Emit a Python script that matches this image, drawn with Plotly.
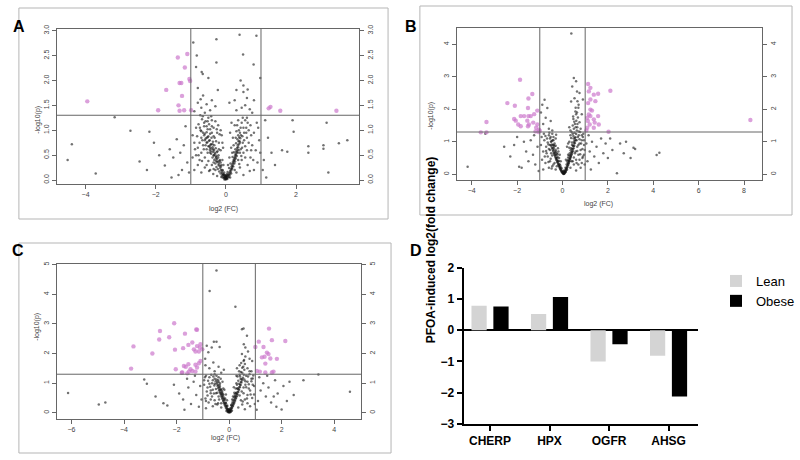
import math
import plotly.graph_objects as go

# ---------------- data ----------------
# panel A: proteins, (log2 FC, -log10 p)
a_grey = [
    (0.00,0.01),(-0.02,0.02),(0.02,0.03),(-0.04,0.05),(0.04,0.04),(-0.01,0.06),(0.01,0.08),(-0.06,0.07),(0.06,0.07),
    (-0.08,0.10),(0.08,0.11),(-0.03,0.10),(0.03,0.12),(-0.10,0.13),(0.10,0.14),(-0.12,0.16),(0.12,0.18),(-0.05,0.15),
    (0.05,0.16),(-0.14,0.20),(0.14,0.22),(-0.09,0.19),(0.09,0.24),(-0.16,0.24),(0.16,0.27),(-0.18,0.28),(0.18,0.31),
    (-0.13,0.30),(0.13,0.33),(-0.20,0.33),(0.20,0.36),(-0.22,0.37),(0.22,0.40),(-0.17,0.40),(0.24,0.44),(-0.25,0.42),
    (0.19,0.46),(-0.28,0.46),(0.26,0.49),(-0.21,0.50),(0.28,0.53),(-0.31,0.52),(0.23,0.56),(-0.26,0.56),(0.30,0.58),
    (-0.34,0.60),(0.27,0.62),(-0.29,0.64),(0.32,0.65),(-0.38,0.66),(0.34,0.70),(-0.33,0.70),(0.29,0.74),(-0.42,0.72),
    (0.36,0.78),(-0.37,0.77),(0.33,0.82),(-0.46,0.80),(0.38,0.86),(-0.41,0.85),(0.35,0.90),(-0.50,0.88),(0.40,0.95),
    (-0.45,0.93),(0.37,1.00),(-0.55,0.96),(0.42,1.05),
    (-0.07,0.12),(-0.11,0.09),(-0.15,0.13),(-0.19,0.17),(-0.23,0.22),(-0.27,0.26),(-0.21,0.30),(-0.30,0.33),(-0.25,0.36),
    (-0.33,0.40),(-0.29,0.43),(-0.38,0.45),(-0.34,0.49),(-0.42,0.53),(-0.37,0.57),(-0.46,0.61),(-0.41,0.63),(-0.50,0.68),
    (-0.44,0.71),(-0.53,0.76),(-0.48,0.79),(-0.58,0.83),(-0.52,0.86),(-0.62,0.90),(-0.27,0.48),(-0.32,0.55),(-0.36,0.62),
    (-0.24,0.58),(-0.18,0.38),(-0.14,0.27),(-0.10,0.20),(-0.06,0.04),(-0.09,0.05),(-0.13,0.06),(-0.04,0.01),
    (0.07,0.10),(0.11,0.10),(0.13,0.15),(0.15,0.19),(0.17,0.24),(0.19,0.28),(0.21,0.33),(0.23,0.38),(0.25,0.41),
    (0.27,0.46),(0.29,0.51),(0.31,0.56),(0.33,0.61),(0.35,0.66),(0.37,0.72),(0.39,0.78),(0.41,0.84),(0.43,0.90),
    (0.21,0.27),(0.24,0.33),(0.26,0.37),(0.28,0.43),(0.31,0.48),(0.34,0.55),(0.36,0.60),(0.15,0.13),(0.09,0.06),
    (0.04,0.02),(0.12,0.05),(0.18,0.22),(0.00,0.03),(-0.01,0.04),(0.01,0.05),(0.02,0.07),(-0.02,0.07),(0.00,0.09),
    (-0.05,0.10),(0.04,0.09),
    (-0.15,0.35),(-0.22,0.45),(-0.28,0.38),(-0.35,0.50),(-0.43,0.58),(-0.38,0.72),(-0.47,0.68),(-0.52,0.55),(-0.58,0.70),
    (-0.63,0.62),(-0.55,0.85),(-0.67,0.80),(-0.60,0.93),(-0.70,0.98),(-0.45,1.02),(-0.55,1.08),(-0.35,0.88),(-0.28,0.78),
    (-0.20,0.62),(-0.18,0.92),(-0.26,1.02),(-0.40,1.08),(-0.62,1.15),(-0.74,1.05),(-0.82,0.88),(-0.88,0.62),(-0.78,0.50),
    (-0.68,0.38),(-0.55,0.30),(-0.45,0.20),(-0.35,0.22),(-0.52,1.18),(-0.42,1.28),(-0.73,1.30),(-0.15,1.00),(-0.10,0.75),
    (0.18,0.55),(0.22,0.70),(0.28,0.85),(0.40,0.55),(0.46,0.65),(0.52,0.80),(0.44,0.48),(0.38,0.32),(0.55,0.45),
    (0.60,0.60),(0.65,0.75),(0.58,0.95),(0.50,1.05),(0.48,1.25),(0.62,1.15),(0.72,0.90),(0.78,0.40),(0.32,1.10),
    (0.12,0.95),(0.16,1.15),
    (-0.30,0.20),(-0.40,0.30),(-0.50,0.38),(-0.60,0.45),(-0.45,0.55),(-0.55,0.62),(-0.65,0.70),(-0.60,0.80),(-0.70,0.85),
    (-0.52,1.02),(-0.62,1.08),(-0.72,1.00),(-0.48,1.12),(-0.58,1.18),(-0.68,1.22),(-0.40,1.20),(-0.78,1.12),(-0.35,1.05),
    (-0.25,0.95),(-0.20,0.75),(-0.15,0.60),(-0.10,0.40),(-0.07,0.30),(-0.35,0.35),(-0.70,0.55),(-0.80,0.65),(-0.75,0.40),
    (-0.85,0.50),(-0.90,0.75),(-0.95,0.90),(-0.85,1.05),(-0.66,1.28),(-0.50,1.25),(-0.30,1.18),(-0.22,1.10),(-0.12,0.90),
    (-0.08,0.65),(-0.60,0.25),(-0.48,0.18),(-0.36,0.12),(-0.25,0.08),(-0.70,0.15),(-0.90,0.20),(-0.80,0.30),(-0.95,0.45),
    (-0.40,0.95),(-0.32,0.85),(-0.55,0.75),(-0.45,0.65),(-0.65,0.95),(-0.75,0.75),
    (0.30,0.15),(0.40,0.25),(0.45,0.40),(0.50,0.55),(0.55,0.68),(0.48,0.75),(0.60,0.85),(0.52,0.95),(0.65,1.00),
    (0.45,1.15),(0.55,1.20),(0.70,1.10),(0.80,0.95),(0.75,0.70),(0.85,0.60),(0.70,0.45),(0.62,0.30),(0.80,0.20),
    (0.90,0.35),(0.95,0.80),(0.88,1.15),(0.60,1.25),(0.35,1.20),(0.25,1.10),(0.20,0.85),(0.15,0.65),(0.10,0.45),
    (0.06,0.30),(0.42,0.62),(0.47,0.88),(0.58,1.05),(0.72,0.60),(0.35,0.40),(0.25,0.20),(0.50,0.10),(0.68,0.18),
    (0.92,1.05),(0.98,0.55),(0.40,0.75),(0.30,0.98),
    (-0.60,1.35),(-0.45,1.40),(-0.70,1.45),(-0.55,1.52),(-0.80,1.55),(-0.40,1.60),(-0.65,1.70),(-0.23,1.81),(-0.80,1.85),
    (-0.30,1.48),(-0.90,1.38),(-0.72,1.62),(0.30,1.40),(0.45,1.45),(0.55,1.50),(0.25,1.60),(0.60,1.65),(0.50,1.77),
    (0.30,1.81),(0.50,1.90),(0.75,1.35),(0.10,1.55),(0.80,1.60),(0.68,1.42),
    (-0.93,2.76),(-0.27,2.83),(0.39,2.92),(0.87,2.90),(-0.83,2.50),(0.49,2.52),(-0.27,2.36),(0.79,2.32),(-0.69,2.17),
    (-0.66,2.13),(-0.85,2.27),(0.98,2.05),(0.42,2.00),(-0.50,2.05),(0.62,1.82),
    (-4.51,0.40),(-4.39,0.72),(-3.71,0.13),(-3.17,1.26),(-2.72,0.99),(-2.46,0.37),(-2.25,0.20),(-2.18,0.97),(-1.74,0.29),
    (-1.60,0.62),(-1.50,0.45),(-1.40,0.82),(-1.30,0.55),(-1.25,0.20),(-1.15,1.08),(-1.10,0.35),(-1.20,0.70),(-1.05,0.15),
    (-1.35,0.10),(-1.55,0.05),(-1.90,0.50),(-2.05,0.75),(1.05,0.20),(1.08,0.40),(1.12,1.20),(1.20,0.85),(1.30,0.55),
    (1.60,0.60),(1.75,0.57),(1.90,1.20),(1.93,0.97),(2.35,0.68),(2.35,0.55),(2.78,0.70),(2.78,0.63),(2.87,1.15),
    (2.92,0.15),(3.22,0.74),(3.46,0.80),(1.40,0.30),(1.15,0.05),
]
a_sig = [
    (-3.95,1.58),(-1.37,2.46),(-1.10,2.53),(-1.17,2.26),(-1.04,2.03),(-1.02,1.99),(-1.32,1.95),(-1.27,1.95),
    (-1.70,1.81),(-1.25,1.69),(-1.35,1.50),(-1.93,1.40),(-1.32,1.39),(-1.19,1.40),(-0.99,1.40),
    (1.22,1.44),(1.27,1.47),(1.55,1.39),(3.15,1.39),
]

# panel B
b_grey = [
    (0.05,0.01),(0.03,0.03),(0.08,0.02),(0.00,0.05),(0.10,0.05),(-0.03,0.08),(0.12,0.08),(0.02,0.10),(0.08,0.12),
    (-0.06,0.12),(0.15,0.12),(-0.09,0.16),(0.18,0.17),(-0.04,0.18),(0.13,0.20),(-0.12,0.21),(0.21,0.22),(-0.15,0.26),
    (0.24,0.28),(-0.10,0.28),(0.18,0.30),(-0.18,0.32),(0.27,0.34),(-0.22,0.38),(0.30,0.40),(-0.16,0.40),(0.25,0.44),
    (-0.25,0.44),(0.33,0.47),(-0.28,0.50),(0.36,0.54),(-0.22,0.54),(0.30,0.58),(-0.32,0.58),(0.39,0.62),(-0.35,0.65),
    (0.42,0.70),(-0.29,0.70),(0.36,0.74),(-0.39,0.74),(0.45,0.78),(-0.43,0.82),(0.48,0.86),(-0.36,0.86),(0.42,0.90),
    (-0.47,0.92),(0.51,0.95),(-0.51,1.00),(0.54,1.04),(-0.44,1.05),(0.49,1.10),(-0.55,1.10),(0.57,1.14),(0.60,1.24),
    (0.53,1.28),(0.63,1.35),(0.58,1.45),(0.66,1.55),(0.61,1.65),(0.68,1.75),(0.64,1.90),(0.70,2.05),
    (-0.02,0.06),(-0.05,0.10),(-0.08,0.14),(-0.11,0.18),(-0.14,0.23),(-0.17,0.28),(-0.20,0.33),(-0.23,0.38),(-0.26,0.43),
    (-0.29,0.48),(-0.32,0.53),(-0.35,0.59),(-0.38,0.64),(-0.41,0.70),(-0.44,0.76),(-0.47,0.82),(-0.50,0.88),(-0.13,0.31),
    (-0.19,0.42),(-0.24,0.50),(-0.28,0.60),(-0.33,0.68),(-0.38,0.80),(-0.42,0.90),(-0.07,0.22),
    (0.07,0.04),(0.10,0.08),(0.13,0.12),(0.16,0.16),(0.19,0.21),(0.22,0.26),(0.25,0.31),(0.28,0.36),(0.31,0.42),
    (0.34,0.48),(0.37,0.54),(0.40,0.60),(0.43,0.66),(0.46,0.72),(0.49,0.80),(0.52,0.88),(0.55,0.96),(0.58,1.05),
    (0.23,0.35),(0.27,0.42),(0.31,0.50),(0.35,0.58),(0.39,0.68),(0.43,0.78),(0.47,0.88),(0.51,1.00),(0.55,1.12),
    (0.20,0.14),(0.15,0.07),(0.04,0.02),(0.06,0.03),(0.02,0.04),(0.07,0.07),(0.03,0.06),(0.09,0.04),
    (-0.15,0.50),(-0.22,0.62),(-0.30,0.75),(-0.38,0.90),(-0.48,1.02),(-0.55,0.75),(-0.62,0.92),(-0.45,0.58),(-0.52,0.48),
    (-0.35,0.35),(-0.25,0.25),(-0.68,1.10),(-0.58,1.28),(-0.40,1.05),(-0.30,0.88),(-0.18,0.70),(-0.72,0.72),(-0.78,0.55),
    (-0.62,0.38),(-0.48,0.18),(-0.28,1.22),(-0.52,1.15),
    (0.20,0.40),(0.25,0.52),(0.32,0.65),(0.38,0.80),(0.42,0.98),(0.48,1.18),(0.50,1.40),(0.55,1.55),(0.48,1.70),
    (0.60,1.85),(0.58,2.05),(0.66,2.25),(0.40,0.40),(0.50,0.52),(0.58,0.70),(0.65,0.72),(0.70,0.90),(0.68,1.15),
    (0.75,1.08),(0.82,0.95),(0.88,0.78),(0.78,0.62),(0.85,1.20),(0.65,1.45),(0.72,1.32),(0.45,1.25),(0.38,1.12),
    (0.30,0.82),(0.35,1.35),(0.95,1.05),(0.98,0.75),(0.90,0.55),(0.75,0.45),(0.62,0.35),
    (-0.30,0.15),(-0.45,0.25),(-0.55,0.40),(-0.65,0.55),(-0.50,0.65),(-0.60,0.78),(-0.72,0.85),(-0.65,0.98),(-0.80,1.05),
    (-0.60,1.20),(-0.75,1.18),(-0.40,1.15),(-0.85,0.70),(-0.90,0.45),(-0.75,0.35),(-0.95,0.90),(-0.35,0.95),(-0.20,0.80),
    (-0.12,0.60),(-0.08,0.40),(-0.40,0.30),(-0.60,0.20),(-0.85,0.15),(-0.70,0.65),(-0.55,0.90),(-0.45,1.25),(-0.30,1.10),
    (-0.82,1.25),(-0.92,1.15),(-0.25,0.65),
    (0.35,0.20),(0.50,0.30),(0.60,0.45),(0.70,0.60),(0.80,0.75),(0.65,0.85),(0.75,0.95),(0.85,1.05),(0.72,1.20),
    (0.90,1.15),(0.95,0.90),(0.88,0.50),(0.98,0.30),(0.60,0.12),(0.80,0.20),(0.25,0.60),(0.20,0.85),(0.30,1.00),
    (0.35,1.20),(0.40,1.30),(0.45,0.40),(0.55,0.65),(0.95,0.60),(0.92,1.25),(0.78,1.30),(0.15,0.45),(0.25,0.95),
    (0.85,0.35),(0.70,0.30),(0.62,1.05),
    (0.50,2.96),(0.60,2.86),(0.43,2.70),(0.64,2.55),(0.53,2.34),(0.38,2.24),(0.71,2.14),(0.57,1.93),(0.47,1.78),
    (0.75,1.60),(0.45,1.50),(0.80,1.40),(0.52,1.62),(0.30,1.45),(0.85,1.85),(0.39,4.33),(-0.79,2.29),(-0.89,2.14),
    (-0.67,2.04),(-0.74,1.74),(-0.52,1.64),(-0.60,1.40),(-0.85,1.55),(-0.45,1.35),(-0.95,1.90),(0.90,2.30),(0.75,2.50),
    (-4.18,0.23),(-2.57,0.85),(-2.13,0.90),(-1.91,0.23),(-1.80,0.20),(-2.30,0.55),(-1.60,0.70),(-1.50,0.40),(-1.40,1.05),
    (-1.30,0.60),(-1.20,0.30),(-1.10,0.85),(-1.70,1.00),(-2.00,1.15),(-1.25,1.20),(-3.40,1.25),(-1.05,0.10),(1.10,0.40),
    (1.20,0.70),(1.30,1.00),(1.40,0.55),(1.50,0.85),(1.60,0.35),(1.70,1.10),(1.80,0.65),(1.90,0.95),(2.00,0.50),
    (2.20,0.75),(2.40,0.03),(2.54,0.95),(2.70,0.65),(3.00,0.50),(3.13,0.82),(3.20,0.78),(1.15,1.20),(1.05,0.95),
    (2.10,1.10),(4.15,0.59),(4.27,0.66),(2.80,1.00),(1.25,0.15),
]
b_sig = [
    (-1.87,2.91),(-2.43,2.19),(-1.33,2.47),(-1.50,2.33),(-2.10,2.11),(-1.52,2.04),(-1.11,1.96),(-3.35,1.61),
    (-1.84,1.79),(-1.69,1.79),(-1.50,1.79),(-1.40,1.79),(-2.06,1.65),(-1.95,1.53),(-1.84,1.48),(-1.55,1.65),
    (-1.48,1.53),(-1.29,1.59),(-1.11,1.53),(-1.16,1.43),(-1.04,1.37),(-1.19,1.32),(-1.52,1.48),(-3.60,1.29),
    (-3.35,1.29),(-2.13,1.70),(-1.25,1.85),(-1.05,1.30),(-1.00,1.34),
    (1.13,2.78),(1.23,2.66),(1.16,2.55),(2.11,2.57),(1.38,2.45),(1.57,2.48),(1.23,2.30),(1.13,2.19),(1.45,2.25),
    (1.23,1.99),(1.30,1.96),(1.16,1.84),(1.09,1.74),(1.23,1.79),(1.38,1.69),(1.57,1.79),(1.12,1.64),(1.20,1.53),
    (1.38,1.43),(1.60,1.53),(1.09,1.43),(1.42,1.59),(2.03,1.31),(1.05,1.35),(8.28,1.67),
]

# panel C
c_grey = [
    (0.00,0.01),(-0.03,0.03),(0.03,0.02),(-0.05,0.06),(0.05,0.05),(-0.01,0.08),(0.02,0.10),(-0.08,0.10),(0.08,0.09),
    (-0.04,0.13),(0.05,0.15),(-0.11,0.15),(0.11,0.16),(-0.14,0.21),(0.14,0.22),(-0.08,0.22),(0.09,0.25),(-0.17,0.27),
    (0.17,0.28),(-0.20,0.33),(0.20,0.34),(-0.13,0.34),(0.14,0.38),(-0.23,0.40),(0.23,0.41),(-0.26,0.47),(0.26,0.48),
    (-0.19,0.48),(0.20,0.52),(-0.29,0.54),(0.29,0.55),(-0.32,0.61),(0.32,0.62),(-0.25,0.62),(0.26,0.66),(-0.35,0.68),
    (0.35,0.70),(-0.38,0.75),(0.38,0.78),(-0.31,0.78),(0.32,0.82),(-0.41,0.83),(0.41,0.86),(-0.44,0.90),(0.44,0.94),
    (-0.36,0.94),(0.38,0.98),(-0.48,0.98),(0.47,1.02),(-0.51,1.06),(0.50,1.10),(-0.42,1.10),(0.44,1.14),(-0.55,1.15),
    (0.53,1.18),(0.56,1.28),(0.50,1.35),(0.58,1.45),(0.54,1.55),(0.60,1.65),(0.57,1.78),(0.62,1.90),
    (-0.03,0.07),(-0.06,0.12),(-0.09,0.17),(-0.12,0.23),(-0.15,0.29),(-0.18,0.35),(-0.21,0.42),(-0.24,0.49),(-0.27,0.56),
    (-0.30,0.63),(-0.33,0.70),(-0.36,0.78),(-0.39,0.86),(-0.42,0.94),(-0.45,1.02),(-0.12,0.32),(-0.17,0.43),(-0.22,0.55),
    (-0.27,0.66),(-0.32,0.80),(-0.07,0.25),(-0.05,0.03),(-0.10,0.06),
    (0.03,0.06),(0.06,0.11),(0.09,0.16),(0.12,0.22),(0.15,0.28),(0.18,0.35),(0.21,0.42),(0.24,0.49),(0.27,0.56),
    (0.30,0.63),(0.33,0.71),(0.36,0.79),(0.39,0.87),(0.42,0.95),(0.45,1.04),(0.48,1.14),(0.12,0.32),(0.17,0.44),
    (0.22,0.56),(0.27,0.68),(0.32,0.82),(0.08,0.26),(0.06,0.03),(0.11,0.07),(0.00,0.04),(0.01,0.06),(-0.01,0.05),
    (0.02,0.08),(-0.02,0.09),(0.00,0.11),
    (-0.15,0.48),(-0.22,0.62),(-0.28,0.75),(-0.35,0.88),(-0.40,1.05),(-0.48,1.12),(-0.55,0.98),(-0.62,1.10),(-0.50,0.80),
    (-0.58,0.65),(-0.45,0.68),(-0.38,0.45),(-0.30,0.32),(-0.52,0.30),(-0.70,0.75),(-0.75,0.98),(-0.68,1.28),(-0.55,1.30),
    (-0.40,1.20),(-0.25,1.05),(-0.18,0.78),(-0.82,0.85),(-0.88,0.40),(-0.92,1.20),
    (0.15,0.55),(0.20,0.68),(0.25,0.82),(0.30,0.95),(0.35,1.08),(0.42,1.22),(0.45,1.38),(0.50,1.52),(0.46,1.68),
    (0.55,1.75),(0.40,0.58),(0.48,0.72),(0.55,0.85),(0.62,0.95),(0.58,1.12),(0.65,1.25),(0.70,1.05),(0.75,0.82),
    (0.82,0.62),(0.68,0.48),(0.52,0.38),(0.85,1.15),(0.90,0.95),(0.78,1.40),(0.38,1.40),(0.28,1.25),
    (-0.30,0.18),(-0.45,0.28),(-0.55,0.42),(-0.65,0.55),(-0.50,0.66),(-0.62,0.78),(-0.72,0.88),(-0.65,1.00),(-0.80,1.08),
    (-0.60,1.22),(-0.75,1.20),(-0.48,1.25),(-0.85,0.72),(-0.90,0.48),(-0.78,0.35),(-0.95,0.95),(-0.35,1.00),(-0.22,0.82),
    (-0.12,0.62),(-0.08,0.42),(-0.42,0.32),(-0.62,0.22),(-0.88,0.15),(-0.70,0.66),(-0.56,0.92),(-0.32,1.15),(-0.88,1.25),
    (-0.95,1.10),(-0.26,0.70),(-0.40,0.55),(-0.70,0.45),(-0.82,0.58),
    (0.35,0.18),(0.50,0.28),(0.60,0.45),(0.70,0.60),(0.80,0.75),(0.65,0.86),(0.75,0.96),(0.85,1.06),(0.72,1.22),
    (0.90,1.16),(0.95,0.90),(0.88,0.50),(0.98,0.30),(0.60,0.12),(0.80,0.22),(0.22,0.62),(0.18,0.86),(0.28,1.00),
    (0.32,1.22),(0.45,0.42),(0.55,0.66),(0.95,0.62),(0.92,1.26),(0.78,1.30),(0.12,0.45),(0.70,0.32),(0.62,1.06),
    (0.40,1.28),
    (-0.48,4.80),(-0.74,4.11),(0.24,3.58),(0.49,2.82),(0.55,2.84),(-0.58,2.40),(-0.48,2.40),(-0.85,2.26),(-0.66,2.20),
    (-0.36,2.22),(-0.79,2.04),(-0.91,1.82),(0.56,2.31),(0.62,2.20),(0.72,2.07),(0.49,1.98),(0.78,1.82),(-0.60,1.70),
    (-0.40,1.55),(-0.75,1.50),(-0.55,1.40),(-0.30,1.35),(-0.90,1.60),(0.70,1.50),(0.85,1.40),(0.40,1.60),(0.88,1.75),
    (-0.20,1.45),(0.30,1.50),(0.68,2.60),
    (-6.13,0.67),(-4.96,0.28),(-4.71,0.35),(-3.23,1.12),(-3.13,0.98),(-2.50,0.32),(-2.35,0.25),(-1.90,0.65),(-1.75,0.45),
    (-1.70,0.10),(-1.55,0.85),(-1.45,0.30),(-1.35,1.05),(-1.25,0.60),(-1.15,0.20),(-1.10,0.90),(-2.10,0.95),(-1.60,1.15),
    (-1.30,1.25),(-1.05,0.45),(-2.80,0.55),(2.83,1.10),(3.40,1.29),(4.60,0.71),(2.46,0.60),(2.07,0.90),(2.00,0.11),
    (1.80,0.20),(1.70,0.55),(1.10,0.40),(1.20,0.75),(1.30,1.00),(1.40,0.55),(1.50,0.85),(1.60,0.35),(1.75,1.10),
    (1.85,0.65),(2.20,0.40),(1.15,1.20),(1.05,0.10),(2.30,1.05),(1.45,1.25),
]
c_sig = [
    (-3.64,2.24),(-3.73,1.49),(-2.92,2.00),(-2.63,2.76),(-2.66,2.47),(-2.28,2.55),(-2.09,3.02),(-1.68,2.67),
    (-1.25,2.81),(-1.22,2.80),(-1.75,2.18),(-1.55,2.29),(-1.34,2.14),(-1.28,2.07),(-1.15,2.07),(-1.22,2.25),
    (-1.09,2.31),(-1.11,2.20),(-1.02,2.14),(-1.40,2.37),(-1.72,1.58),(-1.55,1.64),(-1.28,1.62),(-1.15,1.67),
    (-1.22,1.53),(-1.09,1.75),(-2.03,1.47),(-1.78,1.36),(-1.59,1.33),(-1.40,1.41),(-1.28,1.39),(-1.53,1.39),
    (-1.47,1.47),(-2.06,2.13),(-1.65,1.55),(-1.80,1.35),
    (1.52,2.84),(1.13,2.40),(1.63,2.45),(2.14,2.42),(1.31,2.22),(1.44,2.03),(1.50,1.98),(1.35,1.89),(1.25,1.87),
    (1.57,1.83),(1.82,1.82),(1.38,1.66),(1.06,1.41),(1.17,1.39),(1.38,1.36),(1.63,1.36),(1.69,1.39),(1.00,2.22),
]

# panel D
genes = ["CHERP", "HPX", "OGFR", "AHSG"]
lean = [0.78, 0.52, -1.0, -0.82]
obese = [0.76, 1.06, -0.45, -2.12]

FC_CUT = 1.0
P_CUT = -math.log10(0.05)

FONT = "Liberation Sans, Arial, sans-serif"
GREY = "rgba(20,20,20,0.6)"
PINK = "rgba(204,120,204,0.7)"
AX = "#666666"

fig = go.Figure()

panels = [
    # suffix, grey, sig, xdomain, ydomain, xrange, yrange, xticks, yticks, yfmt
    ("", a_grey, a_sig, [0.0713, 0.4513], [0.600, 0.937], [-4.82, 3.80], [-0.08, 3.034],
     [-4, -2, 0, 2], [0, 0.5, 1, 1.5, 2, 2.5, 3], ".1f"),
    ("2", b_grey, b_sig, [0.5738, 0.9575], [0.6087, 0.9391], [-4.66, 8.80], [-0.175, 4.5],
     [-4, -2, 0, 2, 4, 6, 8], [0, 1, 2, 3, 4], "d"),
    ("3", c_grey, c_sig, [0.0713, 0.4538], [0.0891, 0.4261], [-6.56, 5.03], [-0.21, 5.02],
     [-6, -4, -2, 0, 2, 4], [0, 1, 2, 3, 4, 5], "d"),
]

layout = {}
for i, (n, grey, sig, xd, yd, xr, yr, xt, yt, yfmt) in enumerate(panels):
    right = str(5 + i)
    xa, ya, yr_ax = "x" + n, "y" + n, "y" + right
    fig.add_trace(go.Scatter(
        x=[p[0] for p in grey], y=[p[1] for p in grey], xaxis=xa, yaxis=ya,
        mode="markers", marker=dict(size=2.5, color=GREY), showlegend=False, hoverinfo="skip"))
    fig.add_trace(go.Scatter(
        x=[p[0] for p in sig], y=[p[1] for p in sig], xaxis=xa, yaxis=yr_ax,
        mode="markers", marker=dict(size=4.4, color=PINK), showlegend=False, hoverinfo="skip"))
    tick = dict(ticks="outside", ticklen=4, tickcolor=AX, tickwidth=1, automargin=False,
                tickfont=dict(size=7, color="#444", family=FONT), showgrid=False, zeroline=False)
    layout["xaxis" + n] = dict(domain=xd, range=xr, anchor=ya, tickvals=xt, showline=True,
                               mirror=True, linecolor=AX, linewidth=1, **tick)
    layout["yaxis" + n] = dict(domain=yd, range=yr, anchor=xa, tickvals=yt, tickformat=yfmt,
                               tickangle=-90, showline=True, mirror=True, linecolor=AX, linewidth=1, **tick)
    layout["yaxis" + right] = dict(range=yr, overlaying=ya, anchor=xa, side="right", tickvals=yt,
                                   tickformat=yfmt, tickangle=-90, showline=False, **tick)
    # significance thresholds
    for xv in (-FC_CUT, FC_CUT):
        fig.add_shape(type="line", xref=xa, yref=ya + " domain", x0=xv, x1=xv, y0=0, y1=1,
                      line=dict(color=AX, width=1))
    fig.add_shape(type="line", xref=xa + " domain", yref=ya, x0=0, x1=1, y0=P_CUT, y1=P_CUT,
                  line=dict(color=AX, width=1))

# bar panel
fig.add_trace(go.Bar(x=list(range(len(genes))), y=lean, name="Lean", xaxis="x4", yaxis="y4",
                     width=0.256, offset=-0.312, marker=dict(color="#d4d4d4", line=dict(width=0))))
fig.add_trace(go.Bar(x=list(range(len(genes))), y=obese, name="Obese", xaxis="x4", yaxis="y4",
                     width=0.256, offset=0.056, marker=dict(color="#000000", line=dict(width=0))))
boldfont = dict(size=12, color="black", family=FONT, weight="bold")
layout["xaxis4"] = dict(domain=[0.5825, 0.8775], range=[-0.443, 3.503], anchor="y4", automargin=False,
                        tickvals=list(range(len(genes))), ticktext=genes, showline=True, linecolor="black",
                        linewidth=2, ticks="outside", ticklen=5, tickwidth=2, tickcolor="black",
                        tickfont=boldfont, showgrid=False, zeroline=False)
layout["yaxis4"] = dict(domain=[0.0783, 0.418], range=[-3, 2], anchor="x4", tickvals=[-3, -2, -1, 0, 1, 2],
                        automargin=False, showline=True, linecolor="black", linewidth=2, ticks="outside",
                        ticklen=5, tickwidth=2, tickcolor="black", tickfont=boldfont, showgrid=False,
                        zeroline=True, zerolinecolor="black", zerolinewidth=2)

# panel frames
frames = [(19, 8, 390, 219), (422, 6, 796, 215), (19, 243, 393, 453)]
for x0, y0, x1, y1 in frames:
    fig.add_shape(type="rect", xref="paper", yref="paper", x0=x0 / 800, x1=x1 / 800,
                  y0=1 - y1 / 460, y1=1 - y0 / 460, line=dict(color="#b5b5b5", width=1))

ann = []
for txt, px, py in [("A", 11, 16), ("B", 413, 16), ("C", 10, 251), ("D", 418, 251)]:
    ann.append(dict(text="<b>" + txt + "</b>", x=px / 800, y=1 - py / 460, xref="paper", yref="paper",
                    showarrow=False, font=dict(size=16, color="black", family=FONT)))
for px, py in [(208, 209), (618, 204), (210, 444)]:
    ann.append(dict(text="log2 (FC)", x=px / 800, y=1 - py / 460, xref="paper", yref="paper",
                    showarrow=False, font=dict(size=7, color="#444", family=FONT)))
for px, py in [(32, 104), (433, 100), (31, 343)]:
    ann.append(dict(text="-log10(p)", x=px / 800, y=1 - py / 460, xref="paper", yref="paper",
                    showarrow=False, textangle=-90, font=dict(size=7, color="#444", family=FONT)))
ann.append(dict(text="<b>PFOA-induced log2(fold change)</b>", x=433 / 800, y=1 - 345 / 460, xref="paper",
                yref="paper", showarrow=False, textangle=-90, font=dict(size=12, color="black", family=FONT)))

fig.update_layout(
    width=800, height=460, margin=dict(l=0, r=0, t=0, b=0),
    paper_bgcolor="white", plot_bgcolor="white",
    annotations=ann,
    legend=dict(x=720 / 800, y=1 - 266 / 460, xanchor="left", yanchor="top", bgcolor="rgba(0,0,0,0)",
                font=dict(size=13, color="black", family=FONT), tracegroupgap=3),
    barmode="overlay",
    **layout,
)
fig.write_html("out.html", config={"displayModeBar": False},
               post_script="document.body.style.margin='0px';")
